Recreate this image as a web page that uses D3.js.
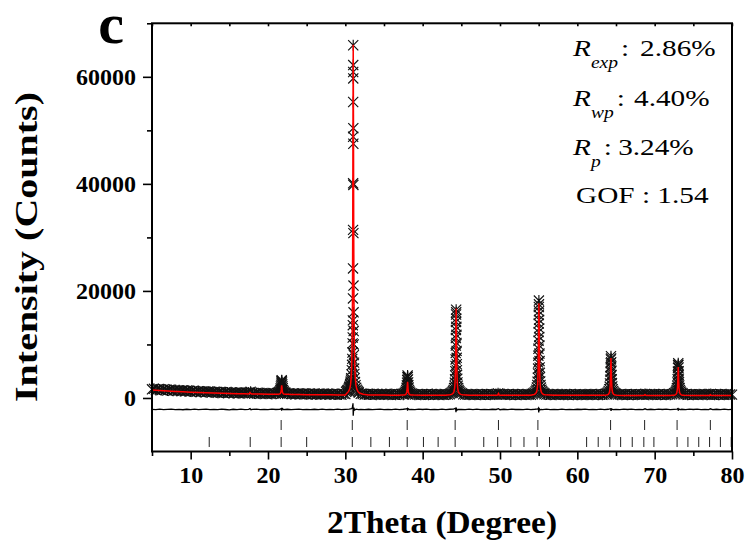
<!DOCTYPE html>
<html><head><meta charset="utf-8">
<script src="https://cdn.jsdelivr.net/npm/d3@7"></script>
<style>html,body{margin:0;padding:0;background:#fff}</style>
</head><body><svg id="chart" width="746" height="546"></svg>
<script>
// ---------- DATA (2Theta in degrees, intensity in counts) ----------
const observedBackground = [
[5,1620],[5.25,1710],[5.5,1480],[5.75,1650],[6,1590],[6.25,1470],[6.5,1640],[6.75,1520],
[7,1380],[7.25,1560],[7.5,1490],[7.75,1330],[8,1470],[8.25,1350],[8.5,1420],[8.75,1300],
[9,1410],[9.25,1250],[9.5,1380],[9.75,1340],[10,1190],[10.25,1320],[10.5,1260],[10.75,1150],
[11,1280],[11.25,1110],[11.5,1230],[11.75,1190],[12,1060],[12.25,1200],[12.5,1150],[12.75,1020],
[13,1140],[13.25,1090],[13.5,990],[13.75,1110],[14,1060],[14.25,940],[14.5,1080],[14.75,1010],
[15,950],[15.25,1050],[15.5,900],[15.75,1000],[16,980],[16.25,870],[16.5,1010],[16.75,920],
[17,860],[17.25,960],[17.5,1010],[17.75,1150],[18,900],[18.25,830],[18.5,940],[18.75,880],
[19,800],[19.25,910],[19.5,860],[19.75,780],[20,890],[20.25,820],[20.5,760],[20.75,870],
[21,800],[21.25,900],[22.5,780],[22.75,850],
[23,760],[23.25,840],[23.5,700],[23.75,810],[24,790],[24.25,720],[24.5,830],[24.75,760],
[25,690],[25.25,800],[25.5,740],[25.75,680],[26,790],[26.25,710],[26.5,760],[26.75,650],
[27,740],[27.25,800],[27.5,690],[27.75,760],[28,660],[28.25,770],[28.5,710],[28.75,640],
[29,760],[29.25,700],[29.5,650],[29.75,780],[30,720],
[31.75,1000],[32,780],[32.25,720],[32.5,650],[32.75,740],
[33,690],[33.25,640],[33.5,730],[33.75,680],[34,620],[34.25,720],[34.5,660],[34.75,700],
[35,640],[35.25,730],[35.5,610],[35.75,690],[36,720],[36.25,650],[36.5,600],[36.75,700],
[37,660],[37.25,740],[37.5,620],[38.75,680],
[39,620],[39.25,700],[39.5,650],[39.75,610],[40,690],[40.25,640],[40.5,710],[40.75,600],
[41,660],[41.25,720],[41.5,630],[41.75,680],[42,610],[42.25,700],[42.5,650],[42.75,590],
[43,690],[43.25,640],[43.5,710],
[45.25,690],[45.5,640],[45.75,700],[46,620],[46.25,690],[46.5,650],[46.75,600],
[47,700],[47.25,640],[47.5,610],[47.75,680],[48,630],[48.25,700],[48.5,660],[48.75,600],
[49,690],[49.25,640],[49.5,680],[49.75,860],[50,760],[50.25,650],[50.5,700],[50.75,630],
[51,690],[51.25,610],[51.5,660],[51.75,700],[52,600],[52.25,680],[52.5,640],[52.75,590],
[53,690],[53.25,630],[53.5,700],[53.75,640],[54,600],[54.25,680],
[55.75,690],[56,640],[56.25,700],[56.5,610],[56.75,680],
[57,650],[57.25,600],[57.5,690],[57.75,630],[58,700],[58.25,620],[58.5,660],[58.75,600],
[59,680],[59.25,640],[59.5,590],[59.75,690],[60,620],[60.25,670],[60.5,600],[60.75,650],
[61,690],[61.25,610],[61.5,640],[61.75,700],[62,600],[62.25,660],[62.5,690],[62.75,620],
[63,680],[63.25,610],[63.5,650],[63.75,700],
[65,680],[65.25,620],[65.5,690],[65.75,610],[66,660],[66.25,700],[66.5,600],[66.75,650],
[67,690],[67.25,620],[67.5,670],[67.75,600],[68,650],[68.25,700],[68.5,640],[68.75,760],
[69,690],[69.25,620],[69.5,660],[69.75,600],[70,680],[70.25,630],[70.5,700],[70.75,610],
[71,650],[71.25,690],[71.5,600],[71.75,670],[72,620],[72.25,680],
[73.75,650],[74,690],[74.25,610],[74.5,660],[74.75,700],
[75,600],[75.25,670],[75.5,630],[75.75,690],[76,650],[76.25,600],[76.5,680],[76.75,620],
[77,700],[77.25,750],[77.5,640],[77.75,600],[78,670],[78.25,620],[78.5,690],[78.75,640],
[79,600],[79.25,680],[79.5,630],[79.75,660],[80,620]
];

const observedPeaks = [
// ~21.8
[21.27,960],[21.42,1080],[21.52,1250],[21.59,1500],[21.64,1800],[21.67,2150],[21.70,2500],[21.725,2850],[21.75,3150],[21.77,3300],
[21.79,3200],[21.815,2900],[21.84,2550],[21.87,2200],[21.90,1850],[21.95,1500],[22.02,1250],[22.12,1080],[22.27,960],
// ~31.0
[30.1,1150],[30.2,1300],[30.28,1450],[30.35,1550],[30.45,1800],[30.5,2000],[30.55,2150],[30.6,2400],[30.63,2600],[30.67,2850],[30.7,3100],
[30.73,3400],[30.76,3700],[30.8,4400],[30.84,5200],[30.87,6200],
[30.9,7300],[30.92,8500],[30.94,10200],[30.955,11300],[30.965,13600],[30.975,14500],[30.985,18600],[30.995,24200],[31.0,31400],
[31.005,40100],[31.01,48800],[31.015,55300],[31.018,60900],[31.02,65900],[31.022,62200],[31.025,59700],[31.03,50400],[31.035,47500],
[31.04,39800],[31.045,30800],[31.055,21000],[31.065,16000],[31.075,12500],[31.085,10000],[31.1,8000],[31.12,6600],[31.14,5500],
[31.17,4500],[31.2,3700],[31.25,3000],[31.32,2400],[31.4,1900],[31.5,1550],[31.6,1300],[31.7,1100],
// ~38.0
[37.55,850],[37.7,980],[37.8,1200],[37.87,1500],[37.92,1900],[37.95,2350],[37.98,2850],[38.005,3350],[38.03,3850],[38.05,4200],
[38.07,3950],[38.095,3450],[38.12,2900],[38.15,2400],[38.18,1950],[38.23,1500],[38.3,1200],[38.4,980],[38.55,850],
// ~44.3
[43.63,900],[43.78,1050],[43.91,1250],[44.0,1500],[44.07,1850],[44.12,2300],[44.16,2850],[44.19,3500],[44.21,4200],[44.23,5000],
[44.245,6000],[44.26,7200],[44.272,8400],[44.284,9800],[44.294,11200],[44.304,12700],[44.314,14200],[44.322,15600],[44.33,16500],
[44.338,16000],[44.346,14800],[44.356,13300],[44.366,11800],[44.376,10300],[44.388,8800],[44.40,7500],[44.415,6300],[44.43,5200],
[44.45,4300],[44.47,3600],[44.50,2900],[44.54,2300],[44.59,1850],[44.66,1500],[44.75,1250],[44.88,1050],[45.03,900],
// ~55.0
[54.33,900],[54.48,1050],[54.61,1280],[54.70,1550],[54.77,1950],[54.82,2450],[54.86,3050],[54.89,3800],[54.91,4600],[54.93,5500],
[54.945,6600],[54.96,7900],[54.972,9200],[54.984,10700],[54.994,12300],[55.004,13900],[55.014,15500],[55.022,17000],[55.03,18200],
[55.038,17500],[55.046,16200],[55.056,14600],[55.066,13000],[55.076,11400],[55.088,9800],[55.10,8300],[55.115,6900],[55.13,5700],
[55.15,4700],[55.17,3900],[55.20,3100],[55.24,2450],[55.29,1950],[55.36,1550],[55.45,1250],[55.58,1050],[55.73,900],
// ~64.4
[63.8,900],[63.95,1050],[64.05,1300],[64.13,1650],[64.18,2100],[64.22,2700],[64.25,3400],[64.27,4100],[64.29,4900],[64.305,5700],
[64.32,6500],[64.335,7200],[64.35,7800],[64.365,7400],[64.38,6700],[64.395,5900],[64.41,5100],[64.43,4300],[64.45,3500],[64.48,2800],
[64.52,2150],[64.57,1650],[64.65,1300],[64.75,1050],[64.9,900],
// ~73.0
[72.5,880],[72.65,1000],[72.75,1200],[72.83,1500],[72.88,1850],[72.92,2300],[72.95,2900],[72.97,3500],[72.99,4200],[73.005,4900],
[73.02,5600],[73.035,6100],[73.05,6500],[73.065,6200],[73.08,5700],[73.095,5000],[73.11,4300],[73.13,3600],[73.15,2950],[73.18,2350],
[73.22,1850],[73.27,1500],[73.35,1200],[73.45,1000],[73.6,880]
];

const calculated = [
[5,1500],[6,1400],[7,1310],[8,1230],[9,1160],[10,1090],[11,1030],[12,975],[13,925],[14,880],[15,840],[16,805],[17,775],
[17.45,763],[17.6,850],[17.67,1000],[17.74,850],[17.9,750],[19,720],[20,700],
[20.97,681],[21.17,689],[21.32,701],[21.42,720],[21.50,751],[21.57,811],[21.62,904],[21.67,1117],[21.71,1512],[21.74,2016],[21.77,2352],
[21.80,2016],[21.83,1512],[21.87,1117],[21.92,904],[21.97,811],[22.04,751],[22.12,720],[22.22,701],[22.37,689],[22.57,675],
[23,650],[24,635],[25,620],[26,608],[27,596],[28,585],[29,575],[30,566],
[30.22,945],[30.42,1225],[30.57,1715],[30.67,2445],[30.75,3655],[30.82,5975],[30.87,9595],[30.92,17875],[30.96,33275],[30.99,52875],[31.02,66000],
[31.05,52875],[31.08,33275],[31.12,17875],[31.17,9595],[31.22,5975],[31.29,3655],[31.37,2445],[31.47,1715],[31.62,1225],[31.82,925],
[32.3,700],[33,570],[34,545],[35,535],[36,528],[37,524],
[37.25,536],[37.45,547],[37.6,565],[37.7,593],[37.78,639],[37.85,727],[37.9,864],[37.95,1178],[37.99,1762],[38.02,2506],[38.05,3000],
[38.08,2506],[38.11,1762],[38.15,1178],[38.2,864],[38.25,727],[38.32,639],[38.4,593],[38.5,565],[38.65,547],[38.85,536],
[40,515],[42,510],[43,508],
[43.53,597],[43.73,666],[43.88,789],[43.98,969],[44.06,1267],[44.13,1844],[44.18,2742],[44.23,4799],[44.27,8606],[44.30,13466],[44.33,16700],
[44.36,13466],[44.39,8606],[44.43,4799],[44.48,2742],[44.53,1844],[44.60,1267],[44.68,969],[44.78,789],[44.93,666],[45.13,597],
[46,502],[48,499],[49.4,498],[49.6,510],[49.72,580],[49.8,820],[49.88,580],[50,510],[50.3,497],[52,495],[54,492],
[54.23,588],[54.43,662],[54.58,793],[54.68,984],[54.76,1300],[54.83,1913],[54.88,2866],[54.93,5050],[54.97,9092],[55.0,14252],[55.03,17700],
[55.06,14252],[55.09,9092],[55.13,5050],[55.18,2866],[55.23,1913],[55.3,1300],[55.38,984],[55.48,793],[55.63,662],[55.83,588],
[57,490],[60,488],[63,486],
[63.55,525],[63.75,555],[63.9,607],[64.0,685],[64.08,815],[64.15,1063],[64.2,1450],[64.25,2335],[64.29,3985],[64.32,6085],[64.35,7485],
[64.38,6085],[64.41,3985],[64.45,2335],[64.5,1450],[64.55,1063],[64.62,815],[64.7,685],[64.8,607],[64.95,555],[65.15,525],
[66,484],[68.4,482],[68.65,520],[68.75,620],[68.85,520],[69.1,482],[71,480],[72,478],
[72.25,508],[72.45,531],[72.6,571],[72.7,630],[72.78,728],[72.85,918],[72.9,1212],[72.95,1885],[72.99,3138],[73.02,4734],[73.05,5800],
[73.08,4734],[73.11,3138],[73.15,1885],[73.2,1212],[73.25,918],[73.32,728],[73.4,630],[73.5,571],[73.65,531],[73.85,508],
[75,476],[77,475],[77.12,520],[77.2,600],[77.28,520],[77.45,475],[80,472]
];

const difference = [
[5,-2120],[5.5,-2180],[6,-2100],[6.5,-2190],[7,-2140],[7.5,-2080],[8,-2170],[8.5,-2120],[9,-2200],[9.5,-2110],
[10,-2160],[10.5,-2090],[11,-2180],[11.5,-2130],[12,-2070],[12.5,-2170],[13,-2120],[13.5,-2190],[14,-2100],[14.5,-2150],
[15,-2210],[15.5,-2110],[16,-2160],[16.5,-2080],[17,-2170],[17.5,-2130],[17.67,-1980],[17.8,-2200],[18,-2140],[18.5,-2100],
[19,-2180],[19.5,-2120],[20,-2170],[20.5,-2090],[21,-2150],[21.5,-2120],[21.7,-1980],[21.77,-2380],[21.84,-1960],[22,-2160],
[22.5,-2110],[23,-2180],[23.5,-2130],[24,-2090],[24.5,-2170],[25,-2120],[25.5,-2190],[26,-2110],[26.5,-2160],[27,-2090],
[27.5,-2180],[28,-2130],[28.5,-2170],[29,-2100],[29.5,-2190],[30,-2140],[30.5,-2080],[30.8,-2000],[30.9,-1850],[30.96,-1400],
[30.99,-1000],[31.02,-3300],[31.05,-2600],[31.1,-1800],[31.2,-2250],[31.4,-2100],[31.7,-2180],[32,-2120],[32.5,-2170],[33,-2110],
[33.5,-2180],[34,-2130],[34.5,-2090],[35,-2170],[35.5,-2120],[36,-2190],[36.5,-2100],[37,-2160],[37.5,-2110],[37.9,-2050],
[38.0,-1950],[38.05,-2380],[38.1,-1990],[38.3,-2170],[38.5,-2120],[39,-2180],[39.5,-2100],[40,-2150],[40.5,-2090],[41,-2170],
[41.5,-2130],[42,-2190],[42.5,-2100],[43,-2160],[43.5,-2110],[44,-2080],[44.25,-1900],[44.31,-2650],[44.36,-1800],[44.42,-2300],
[44.6,-2150],[45,-2120],[45.5,-2180],[46,-2100],[46.5,-2160],[47,-2090],[47.5,-2170],[48,-2120],[48.5,-2190],[49,-2110],
[49.5,-2150],[49.8,-2000],[50,-2200],[50.5,-2110],[51,-2170],[51.5,-2090],[52,-2150],[52.5,-2120],[53,-2180],[53.5,-2100],
[54,-2160],[54.5,-2110],[54.9,-2050],[54.97,-1900],[55.01,-2700],[55.06,-1850],[55.12,-2260],[55.3,-2130],[55.5,-2170],[56,-2100],
[56.5,-2180],[57,-2120],[57.5,-2160],[58,-2090],[58.5,-2170],[59,-2130],[59.5,-2190],[60,-2110],[60.5,-2150],[61,-2090],
[61.5,-2170],[62,-2120],[62.5,-2180],[63,-2100],[63.5,-2160],[64,-2110],[64.3,-2000],[64.36,-2420],[64.42,-2030],[64.6,-2160],
[65,-2120],[65.5,-2180],[66,-2100],[66.5,-2150],[67,-2090],[67.5,-2170],[68,-2120],[68.5,-2160],[68.75,-2020],[69,-2170],
[69.5,-2110],[70,-2180],[70.5,-2100],[71,-2150],[71.5,-2090],[72,-2170],[72.5,-2120],[72.9,-2080],[73.0,-1980],[73.06,-2380],
[73.12,-2030],[73.3,-2160],[73.5,-2110],[74,-2170],[74.5,-2100],[75,-2150],[75.5,-2090],[76,-2170],[76.5,-2120],[77,-2160],
[77.2,-2020],[77.5,-2180],[78,-2110],[78.5,-2160],[79,-2090],[79.5,-2170],[80,-2120]
];

const braggPhase1 = [21.7,30.9,38.0,44.2,49.8,54.9,64.3,68.7,72.9,77.2];
const braggPhase2 = [12.4,17.7,21.7,25.0,30.9,33.3,35.7,38.0,40.1,42.0,44.2,47.9,49.7,51.4,53.1,54.8,56.4,
  61.2,62.7,64.2,65.6,67.1,68.6,69.9,72.9,74.3,75.7,77.1,78.5,79.9];

const xMajorTicks = [10,20,30,40,50,60,70,80];
const xMinorTicks = [5,15,25,35,45,55,65,75];
const yMajorTicks = [0,20000,40000,60000];
const yMinorTicks = [10000,30000,50000,70000];

const fitLabels = ["R","R","R","GOF"];
const fitSubscripts = ["exp","wp","p",""];
const fitValues = ["2.86%","4.40%","3.24%","1.54"];

const panelLabel = "c";
const xTitle = "2Theta (Degree)";
const yTitle = "Intensity (Counts)";

// ---------- DRAWING ----------
const FONT = "'Liberation Serif','Times New Roman',Times,serif";
const svg = d3.select("#chart");
svg.append("rect").attr("width",746).attr("height",546).attr("fill","#fff");

const plot = {left:152, right:732, top:23.3, bottom:451.5};
const x = d3.scaleLinear().domain([5,80]).range([plot.left, plot.right]);
const y = d3.scaleLinear().domain([-10000,70000]).range([plot.bottom, plot.top]);

// observed: asterisk markers
const asteriskType = {
  draw(ctx, size) {
    const r = Math.sqrt(size) / 2, d = r * 0.92;
    ctx.moveTo(0, -r); ctx.lineTo(0, r);
    ctx.moveTo(-d, -d); ctx.lineTo(d, d);
    ctx.moveTo(-d, d); ctx.lineTo(d, -d);
  }
};
const starPath = d3.symbol(asteriskType, 121)();
const observed = observedBackground.concat(observedPeaks).sort((a,b)=>a[0]-b[0]);

svg.append("g").attr("class","observed")
  .selectAll("path").data(observed).join("path")
  .attr("d", starPath)
  .attr("transform", d => `translate(${x(d[0])},${y(d[1])})`)
  .attr("fill","none").attr("stroke","#111").attr("stroke-width",1.15);

const line = d3.line().x(d => x(d[0])).y(d => y(d[1]));

// difference curve
svg.append("path").datum(difference).attr("d", line)
  .attr("fill","none").attr("stroke","#000").attr("stroke-width",1.3);

// calculated curve
svg.append("path").datum(calculated).attr("d", line)
  .attr("fill","none").attr("stroke","#ff0000").attr("stroke-width",1.5);

// Bragg reflection markers
const braggRows = [{pos: braggPhase1, top: 420, bottom: 430}, {pos: braggPhase2, top: 437, bottom: 447}];
braggRows.forEach(row => {
  svg.append("g").selectAll("line").data(row.pos).join("line")
    .attr("x1", d => x(d)).attr("x2", d => x(d))
    .attr("y1", row.top).attr("y2", row.bottom)
    .attr("stroke","#222").attr("stroke-width",1);
});

// frame
svg.append("rect")
  .attr("x", plot.left).attr("y", plot.top)
  .attr("width", plot.right - plot.left).attr("height", plot.bottom - plot.top)
  .attr("fill","none").attr("stroke","#000").attr("stroke-width",2);

function styleAxis(g, labelSize) {
  g.select(".domain").remove();
  g.selectAll(".tick line").attr("stroke","#000").attr("stroke-width",1.6);
  g.selectAll(".tick text").attr("font-family",FONT).attr("font-weight","bold")
    .attr("font-size",labelSize).attr("fill","#000");
}

// bottom axis
svg.append("g").attr("transform",`translate(0,${plot.bottom})`)
  .call(d3.axisBottom(x).tickValues(xMajorTicks).tickSize(8).tickSizeOuter(0).tickPadding(6).tickFormat(d3.format("d")))
  .call(g => styleAxis(g, 24));
svg.append("g").attr("transform",`translate(0,${plot.bottom})`)
  .call(d3.axisBottom(x).tickValues(xMinorTicks).tickSize(4.5).tickSizeOuter(0).tickFormat(""))
  .call(g => styleAxis(g, 24));
// top axis (small inner ticks)
svg.append("g").attr("transform",`translate(0,${plot.top})`)
  .call(d3.axisTop(x).tickValues(xMajorTicks.concat(xMinorTicks)).tickSize(-3).tickSizeOuter(0).tickFormat(""))
  .call(g => styleAxis(g, 24));

// left axis
svg.append("g").attr("transform",`translate(${plot.left},0)`)
  .call(d3.axisLeft(y).tickValues(yMajorTicks).tickSize(9).tickSizeOuter(0).tickPadding(7).tickFormat(d3.format("d")))
  .call(g => styleAxis(g, 24));
svg.append("g").attr("transform",`translate(${plot.left},0)`)
  .call(d3.axisLeft(y).tickValues(yMinorTicks).tickSize(5).tickSizeOuter(0).tickFormat(""))
  .call(g => styleAxis(g, 24));

// titles
svg.append("text").text(xTitle)
  .attr("x", 442).attr("y", 533).attr("text-anchor","middle")
  .attr("font-family",FONT).attr("font-weight","bold").attr("font-size",31)
  .attr("textLength",230).attr("lengthAdjust","spacingAndGlyphs");
svg.append("text").text(yTitle)
  .attr("transform","translate(37,247) rotate(-90)").attr("text-anchor","middle")
  .attr("font-family",FONT).attr("font-weight","bold").attr("font-size",31)
  .attr("textLength",310).attr("lengthAdjust","spacingAndGlyphs");

// panel label
svg.append("text").text(panelLabel)
  .attr("x", 111).attr("y", 43).attr("text-anchor","middle")
  .attr("font-family",FONT).attr("font-weight","bold").attr("font-size",58);

// fit statistics
const statBaselines = [56, 106, 155, 203];
const statValueX = [55, 50, 37, null];
fitLabels.forEach((lab, i) => {
  const g = svg.append("g").attr("transform", `translate(${i===3?576:573},${statBaselines[i]}) scale(1.22,1)`);
  const t = g.append("text").attr("font-family",FONT).attr("font-size",24).attr("fill","#000");
  if (fitSubscripts[i]) {
    t.append("tspan").attr("font-style","italic").text(lab);
    t.append("tspan").attr("font-style","italic").attr("font-size",16).attr("dy",12).text(fitSubscripts[i]);
    t.append("tspan").attr("dy",-12).attr("dx",2.5).text(":");
    t.append("tspan").attr("x", statValueX[i]).text(fitValues[i]);
  } else {
    t.append("tspan").text(lab + " : " + fitValues[i]);
  }
});
</script>
</body></html>
